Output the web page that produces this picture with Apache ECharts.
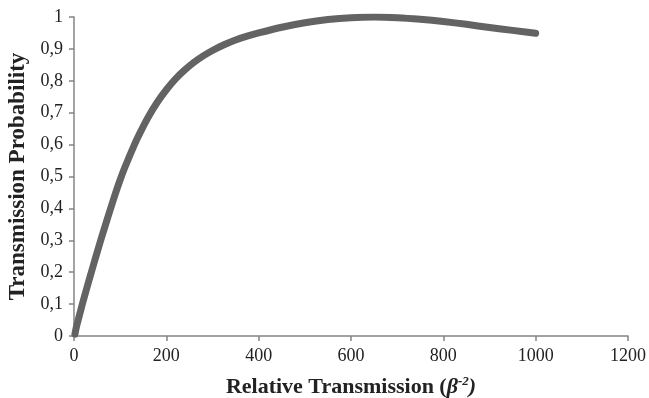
<!DOCTYPE html>
<html>
<head>
<meta charset="utf-8">
<script src="https://cdn.jsdelivr.net/npm/echarts@6/dist/echarts.min.js"></script>
<style>
  html, body { margin: 0; padding: 0; background: #fff; }
  #chart { width: 649px; height: 398px; }
</style>
</head>
<body>
<div id="chart"></div>
<script>
// Values
const xValues = [2, 5, 10, 15, 20, 30, 40, 50, 60, 70, 80, 90, 100, 110, 120, 130, 140, 160, 180, 200,
  220, 240, 260, 280, 300, 325, 350, 375, 400, 450, 500, 550, 600, 650, 700, 750, 800, 850, 900, 950, 1000];
const probValues = [0.006, 0.027, 0.055, 0.083, 0.11, 0.162, 0.212, 0.262, 0.31, 0.357, 0.403, 0.448, 0.49, 0.528, 0.563, 0.597, 0.628, 0.684, 0.732, 0.772,
  0.806, 0.834, 0.858, 0.878, 0.895, 0.913, 0.928, 0.94, 0.95, 0.968, 0.982, 0.992, 0.998, 1.0, 0.998, 0.993, 0.986, 0.977, 0.967, 0.958, 0.949];

const xTicks = { min: 0, max: 1200, interval: 200 };
const yTicks = { min: 0, max: 1, interval: 0.1 };

const serif = 'Liberation Serif';
const axisGray = '#848484';
const curveGray = '#636363';

const chart = echarts.init(document.getElementById('chart'));

chart.setOption({
  animation: false,
  backgroundColor: '#fff',
  grid: { left: 74, right: 21, top: 17, bottom: 62, containLabel: false, outerBoundsMode: 'none' },
  xAxis: {
    type: 'value',
    min: xTicks.min, max: xTicks.max, interval: xTicks.interval,
    axisLine: { show: true, lineStyle: { color: axisGray, width: 1.5 } },
    axisTick: { show: true, length: 5, lineStyle: { color: axisGray, width: 1.5 } },
    splitLine: { show: false },
    axisLabel: { color: '#222', fontFamily: serif, fontSize: 18, margin: 11, formatter: v => String(v) },
    name: '{a|Relative Transmission (}{b|β}{c|-2}{b|)}',
    nameLocation: 'middle',
    nameGap: 39,
    nameTextStyle: {
      rich: {
        a: { fontFamily: serif, fontWeight: 'bold', fontSize: 22, color: '#222', lineHeight: 24 },
        b: { fontFamily: serif, fontWeight: 'bold', fontStyle: 'italic', fontSize: 22, color: '#222', lineHeight: 24 },
        c: { fontFamily: serif, fontWeight: 'bold', fontStyle: 'italic', fontSize: 13, color: '#222', lineHeight: 15, verticalAlign: 'top' }
      }
    }
  },
  yAxis: {
    type: 'value',
    min: yTicks.min, max: yTicks.max, interval: yTicks.interval,
    axisLine: { show: true, lineStyle: { color: axisGray, width: 1.5 } },
    axisTick: { show: true, length: 5, lineStyle: { color: axisGray, width: 1.5 } },
    splitLine: { show: false },
    axisLabel: {
      color: '#222', fontFamily: serif, fontSize: 18, margin: 11,
      formatter: v => (Math.round(v * 10) / 10).toString().replace('.', ',')
    },
    name: 'Transmission Probability',
    nameLocation: 'middle',
    nameRotate: 90,
    nameGap: 38,
    nameTextStyle: { fontFamily: serif, fontWeight: 'bold', fontSize: 23, color: '#222' }
  },
  series: [{
    type: 'line',
    data: xValues.map((x, i) => [x, probValues[i]]),
    smooth: 0.2,
    symbol: 'none',
    lineStyle: { color: curveGray, width: 7, cap: 'round', join: 'round' }
  }]
});
</script>
</body>
</html>
